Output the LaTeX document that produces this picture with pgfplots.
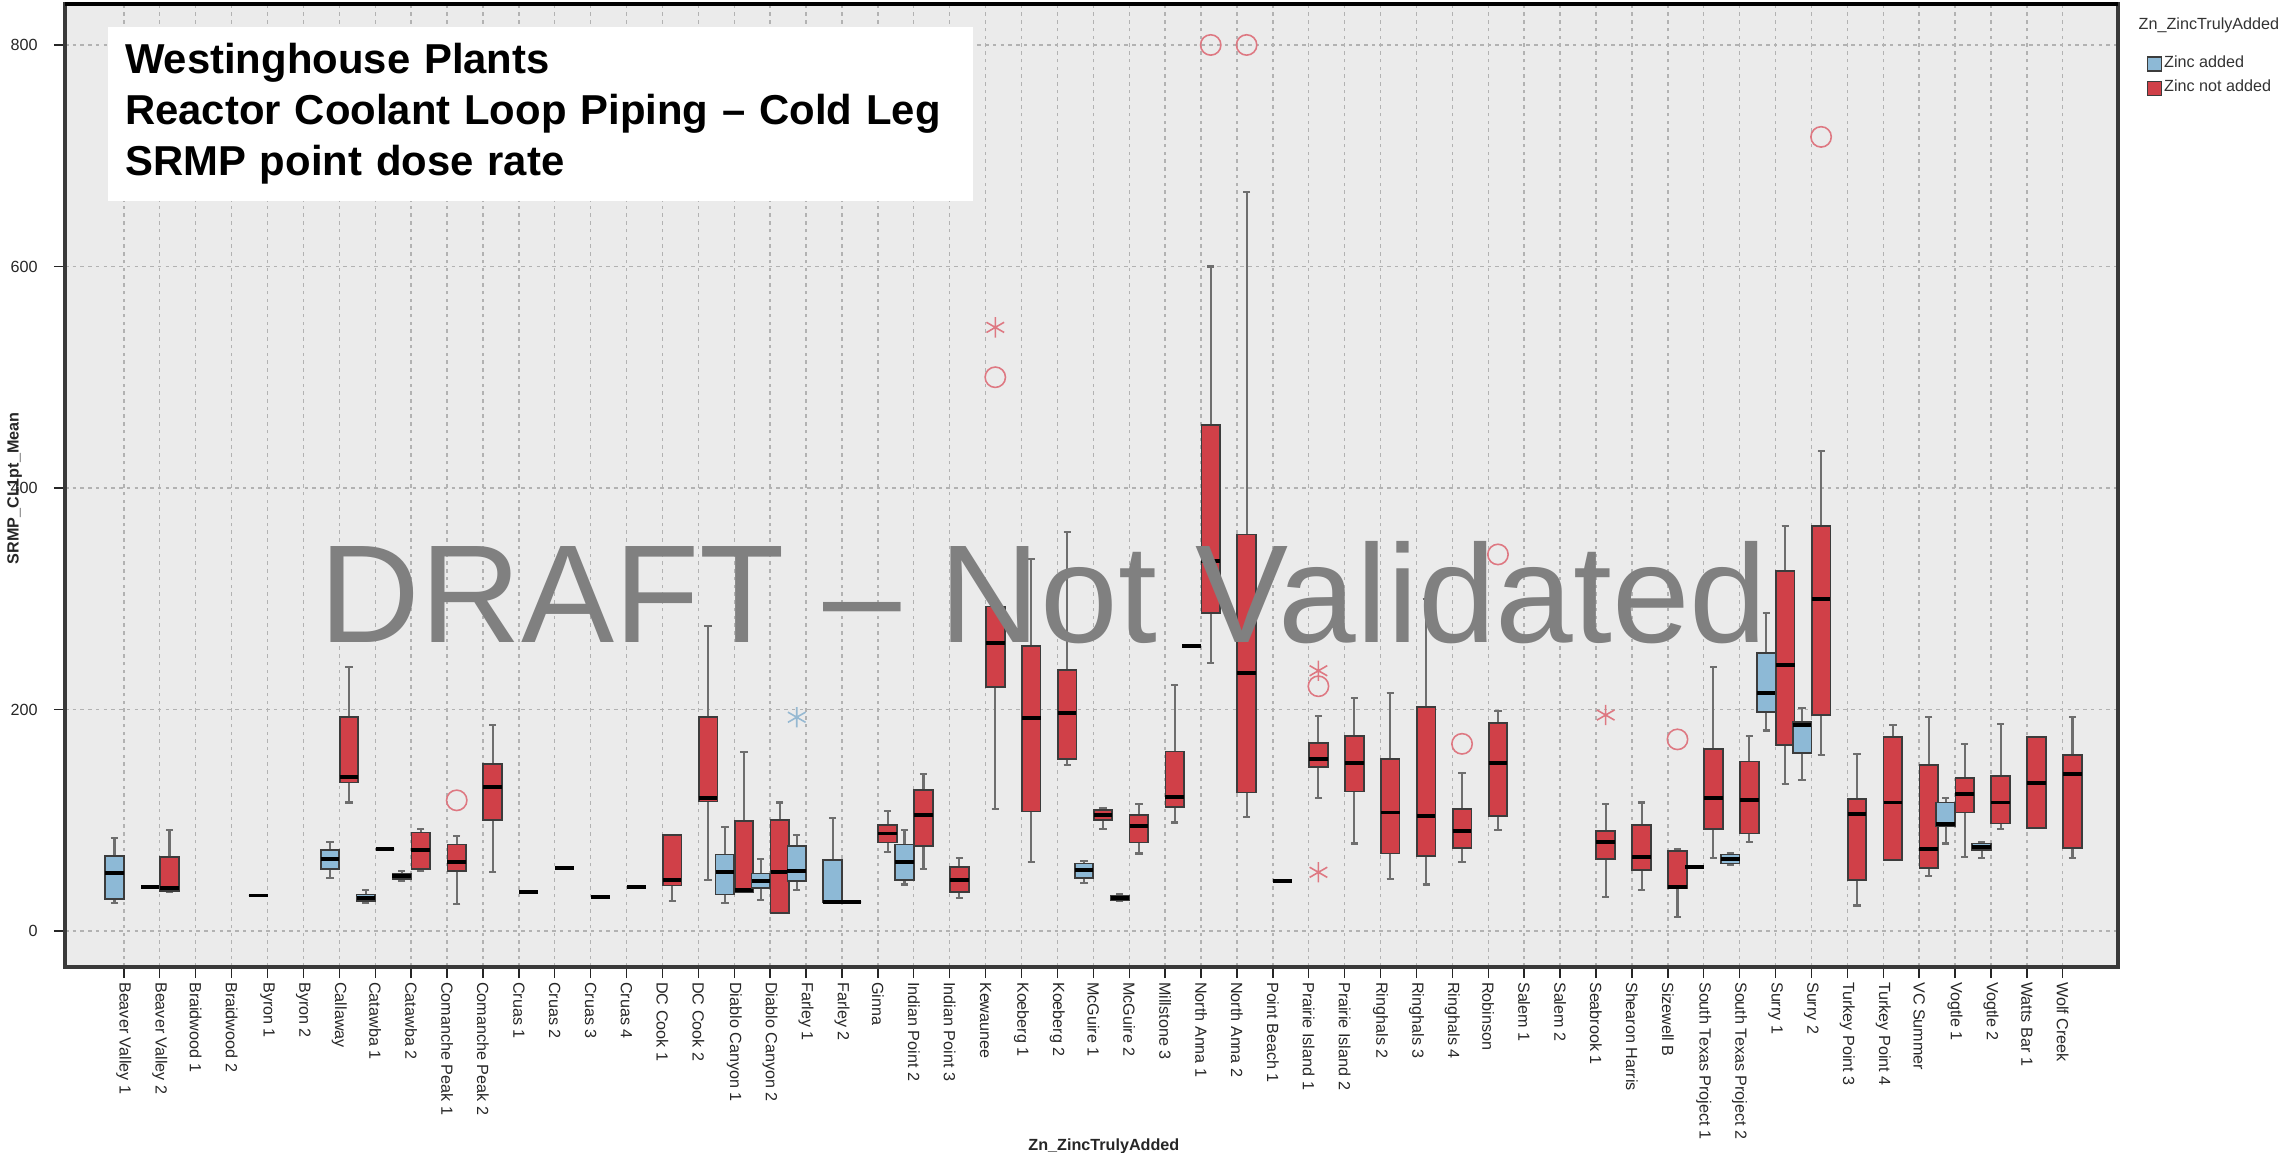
\documentclass[border=0pt]{standalone}
\usepackage{fontspec}
\setmainfont{Liberation Sans}
\usepackage{pgfplots}
\pgfplotsset{compat=1.18}
\usepgfplotslibrary{statistics}

\definecolor{bgcol}{RGB}{235,235,235}
\definecolor{zblue}{RGB}{141,185,214}
\definecolor{zred}{RGB}{208,64,72}
\definecolor{boxline}{RGB}{60,60,60}
\definecolor{whisk}{RGB}{110,110,110}
\definecolor{outred}{RGB}{222,120,130}
\definecolor{outblue}{RGB}{150,185,210}

% one box: position, lower whisker, lower quartile, median, upper quartile, upper whisker
\newcommand{\zb}[6]{\addplot[forget plot, fill=zblue, draw=boxline,
  boxplot prepared={draw position=#1, lower whisker=#2, lower quartile=#3,
  median=#4, upper quartile=#5, upper whisker=#6}] coordinates {};}
\newcommand{\zr}[6]{\addplot[forget plot, fill=zred, draw=boxline,
  boxplot prepared={draw position=#1, lower whisker=#2, lower quartile=#3,
  median=#4, upper quartile=#5, upper whisker=#6}] coordinates {};}

\newcommand{\tinyf}{\fontsize{4.6}{5.2}\selectfont}

\begin{document}
\begin{tikzpicture}
\useasboundingbox (0,0) rectangle (22.93,11.52);
\begin{axis}[
    at={(0.65cm,1.85cm)}, anchor=south west,
    scale only axis, width=20.53cm, height=9.63cm,
    xmin=-1.64, xmax=55.54, ymin=-32.5, ymax=837,
    axis background/.style={fill=bgcol},
    axis line style={gray!45!black, line width=0.9pt},
    grid=major,
    major grid style={dash pattern=on 1pt off 1.2pt, gray!60, line width=0.4pt},
    tick align=outside, major tick length=1.1mm,
    tick pos=left,
    tick style={gray!30!black, line width=0.4pt},
    tick label style={font=\tinyf, text=black!85},
    /pgf/number format/assume math mode=true,
    ytick={0,200,400,600,800},
    yticklabel style={xshift=-0.4mm},
    xtick={0,...,54},
    xticklabel style={rotate=-90, anchor=west, inner sep=1pt},
    xticklabels={Beaver Valley 1, Beaver Valley 2, Braidwood 1, Braidwood 2,
      Byron 1, Byron 2, Callaway, Catawba 1, Catawba 2, Comanche Peak 1,
      Comanche Peak 2, Cruas 1, Cruas 2, Cruas 3, Cruas 4, DC Cook 1, DC Cook 2,
      Diablo Canyon 1, Diablo Canyon 2, Farley 1, Farley 2, Ginna,
      Indian Point 2, Indian Point 3, Kewaunee, Koeberg 1, Koeberg 2,
      McGuire 1, McGuire 2, Millstone 3, North Anna 1, North Anna 2,
      Point Beach 1, Prairie Island 1, Prairie Island 2, Ringhals 2,
      Ringhals 3, Ringhals 4, Robinson, Salem 1, Salem 2, Seabrook 1,
      Shearon Harris, Sizewell B, South Texas Project 1, South Texas Project 2,
      Surry 1, Surry 2, Turkey Point 3, Turkey Point 4, VC Summer, Vogtle 1,
      Vogtle 2, Watts Bar 1, Wolf Creek},
    ylabel={\textbf{SRMP\_CL1pt\_Mean}},
    ylabel style={font=\tinyf, text=black!85, at={(axis description cs:-0.0245,0.497)}, anchor=center},
    xlabel={\textbf{Zn\_ZincTrulyAdded}},
    xlabel style={font=\tinyf, text=black!85, at={(axis description cs:0.506,-0.186)}, anchor=center},
    boxplot/draw direction=y,
    boxplot/box extend=0.52,
    boxplot/whisker extend=0.2,
    boxplot/every box/.style={draw=boxline, line width=0.5pt},
    boxplot/every whisker/.style={draw=whisk, line width=0.6pt},
    boxplot/every median/.style={draw=black, line width=1.1pt},
    legend style={at={(rel axis cs:1.0136,0.9495)}, anchor=north west,
      draw=none, fill=none, font=\tinyf, text=black!80, inner sep=0pt,
      row sep=0.9pt, nodes={inner sep=0.6pt}},
    legend cell align=left,
]
\addlegendimage{legend image code/.code={\draw[fill=zblue, draw=boxline, line width=0.4pt] (0mm,-0.7mm) rectangle (1.4mm,0.7mm);}}
\addlegendentry{Zinc added}
\addlegendimage{legend image code/.code={\draw[fill=zred, draw=boxline, line width=0.4pt] (0mm,-0.7mm) rectangle (1.4mm,0.7mm);}}
\addlegendentry{Zinc not added}

\zb{-0.26}{25}{29}{52}{68}{84}
\zb{0.74}{40}{40}{40}{40}{40}
\zr{1.27}{35}{36}{39}{67}{91}
\zb{3.74}{32}{32}{32}{32}{32}
\zb{5.74}{48}{56}{65}{73}{80}
\zr{6.27}{116}{134}{139}{193}{238}
\zb{6.74}{25}{27}{30}{33}{37}
\zr{7.27}{74}{74}{74}{74}{74}
\zb{7.74}{45}{47}{50}{52}{54}
\zr{8.27}{54}{56}{73}{89}{92}
\zr{9.27}{24}{54}{62}{78}{86}
\zr{10.27}{53}{100}{130}{151}{186}
\zr{11.27}{35}{35}{35}{35}{35}
\zr{12.27}{57}{57}{57}{57}{57}
\zr{13.27}{31}{31}{31}{31}{31}
\zr{14.27}{40}{40}{40}{40}{40}
\zr{15.27}{27}{41}{46}{87}{87}
\zr{16.27}{46}{117}{120}{193}{275}
\zb{16.74}{25}{33}{53}{69}{94}
\zr{17.27}{35}{35}{37}{99}{162}
\zb{17.74}{28}{39}{45}{52}{65}
\zr{18.27}{16}{16}{53}{100}{116}
\zb{18.74}{37}{45}{54}{77}{87}
\zb{19.74}{25}{26}{26}{64}{102}
\zr{20.27}{26}{26}{26}{26}{26}
\zr{21.27}{71}{80}{88}{96}{108}
\zb{21.74}{42}{46}{62}{78}{91}
\zr{22.27}{56}{77}{105}{127}{142}
\zr{23.27}{30}{35}{46}{58}{66}
\zr{24.27}{110}{220}{260}{293}{296}
\zr{25.27}{62}{108}{192}{257}{336}
\zr{26.27}{150}{155}{197}{236}{360}
\zb{26.74}{43}{48}{55}{61}{63}
\zr{27.27}{92}{100}{105}{109}{111}
\zb{27.74}{27}{28}{30}{32}{33}
\zr{28.27}{70}{80}{95}{105}{115}
\zr{29.27}{98}{112}{121}{162}{222}
\zb{29.74}{257}{257}{257}{257}{257}
\zr{30.27}{242}{287}{334}{457}{600}
\zr{31.27}{103}{125}{233}{358}{667}
\zr{32.27}{45}{45}{45}{45}{45}
\zr{33.27}{120}{148}{155}{170}{194}
\zr{34.27}{79}{126}{152}{176}{210}
\zr{35.27}{47}{70}{107}{155}{215}
\zr{36.27}{42}{68}{104}{202}{300}
\zr{37.27}{62}{75}{90}{110}{143}
\zr{38.27}{91}{104}{152}{188}{199}
\zr{41.27}{31}{65}{80}{90}{115}
\zr{42.27}{37}{55}{67}{96}{116}
\zr{43.27}{13}{39}{40}{72}{74}
\zb{43.74}{58}{58}{58}{58}{58}
\zr{44.27}{66}{92}{120}{164}{238}
\zb{44.74}{60}{61}{65}{69}{70}
\zr{45.27}{80}{88}{118}{153}{176}
\zb{45.74}{181}{198}{215}{251}{287}
\zr{46.27}{133}{168}{240}{325}{366}
\zb{46.74}{136}{161}{186}{189}{201}
\zr{47.27}{159}{195}{300}{366}{433}
\zr{48.27}{23}{46}{106}{119}{160}
\zr{49.27}{64}{64}{116}{175}{186}
\zr{50.27}{50}{57}{74}{150}{193}
\zb{50.74}{79}{95}{97}{116}{120}
\zr{51.27}{67}{107}{124}{138}{169}
\zb{51.74}{66}{73}{76}{79}{80}
\zr{52.27}{92}{97}{116}{140}{187}
\zr{53.27}{93}{93}{134}{175}{175}
\zr{54.27}{66}{75}{142}{159}{193}

% outliers
\addplot[forget plot, only marks, mark=o, mark size=2.9pt, draw=outred, line width=0.45pt]
  coordinates {(9.27,118) (24.27,500) (30.27,800) (31.27,800) (33.27,221)
               (37.27,169) (38.27,340) (43.27,173) (47.27,717)};
\addplot[forget plot, only marks, mark=asterisk, mark size=2.9pt, draw=outred, line width=0.45pt]
  coordinates {(24.27,545) (33.27,235) (33.27,53) (41.27,195)};
\addplot[forget plot, only marks, mark=asterisk, mark size=2.9pt, draw=outblue, line width=0.45pt]
  coordinates {(18.74,193)};
\end{axis}

\draw[black, line width=1pt] (0.65,11.48) -- (21.18,11.48);
\node[fill=white, anchor=north west, inner xsep=1.75mm, inner ysep=1.5mm,
  text width=8.3cm, align=left, minimum height=1.74cm,
  font=\fontsize{11.9}{14.6}\selectfont\bfseries] at (1.07,11.26)
  {Westinghouse Plants\\Reactor Coolant Loop Piping – Cold Leg\\SRMP point dose rate};
\node[anchor=base west, inner sep=0pt, text=gray, font=\fontsize{39.7}{40}\selectfont]
  at (3.19,5.09) {DRAFT – Not Validated};
\node[anchor=west, inner sep=0pt, font=\tinyf, text=black!80] at (21.38,11.27)
  {Zn\_ZincTrulyAdded};
\end{tikzpicture}
\end{document}
